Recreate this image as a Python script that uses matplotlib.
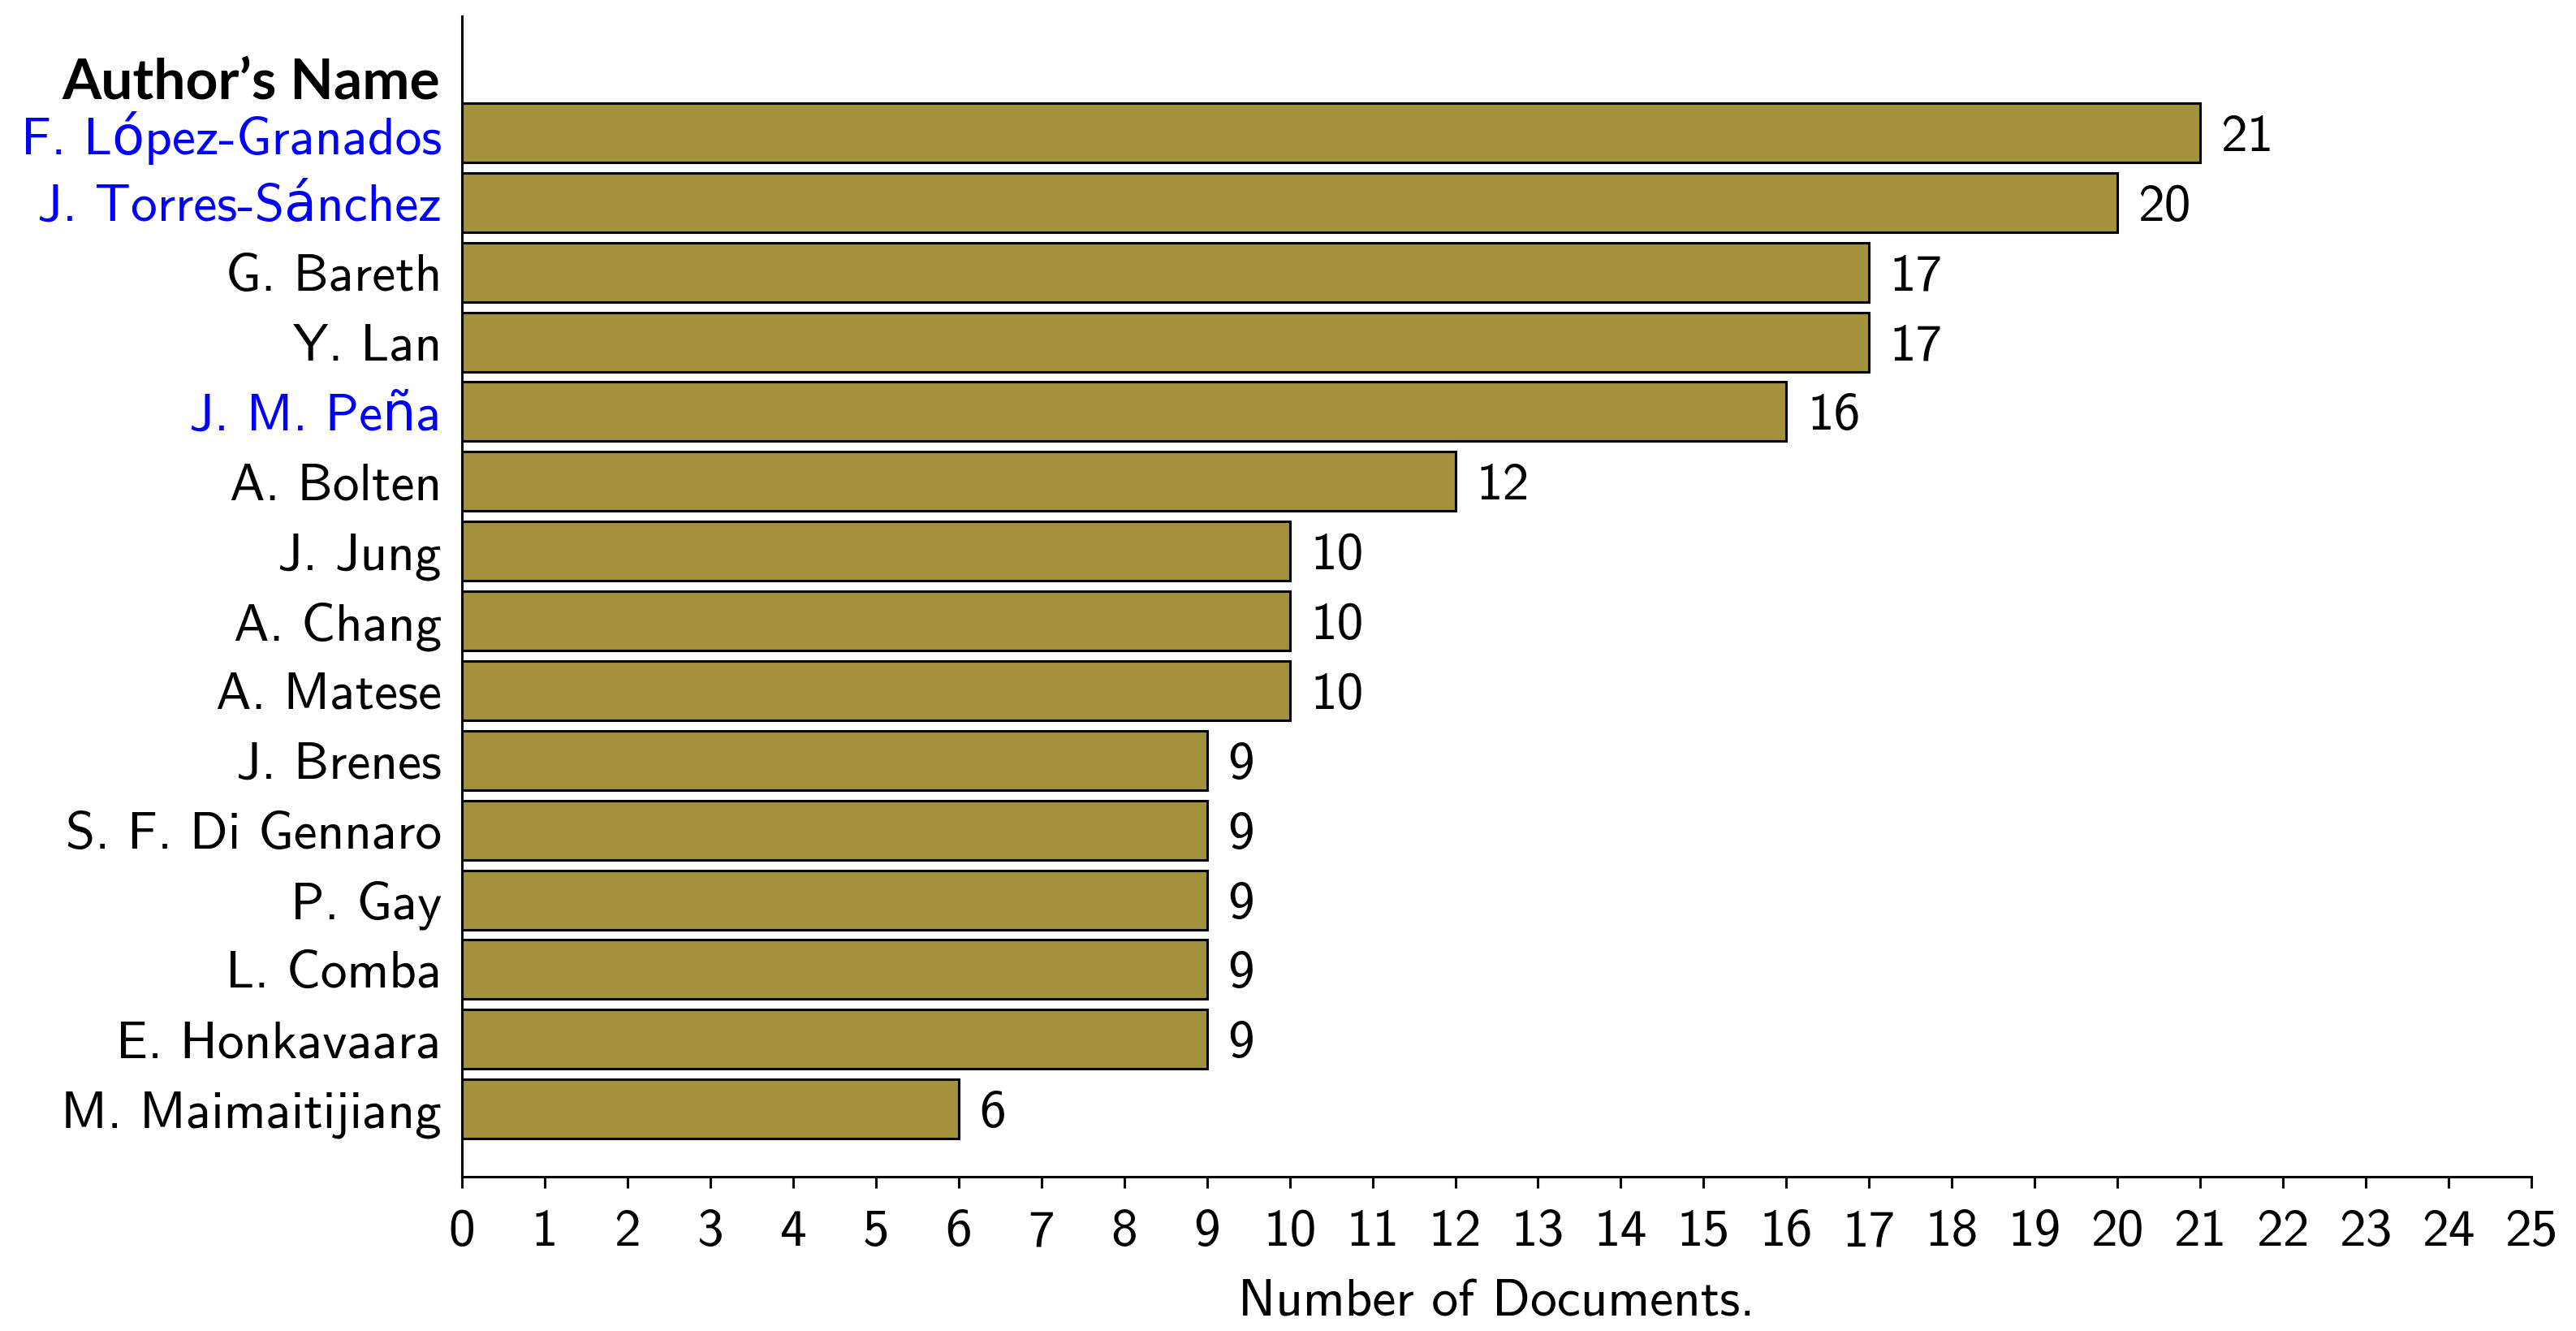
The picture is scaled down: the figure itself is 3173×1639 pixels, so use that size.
import matplotlib
matplotlib.use("Agg")
import matplotlib.pyplot as plt
import numpy as np

# datos
autores = ["F. López-Granados", "J. Torres-Sánchez", "G. Bareth", "Y. Lan",
           "J. M. Peña", "A. Bolten", "J. Jung", "A. Chang", "A. Matese",
           "J. Brenes", "S. F. Di Gennaro", "P. Gay", "L. Comba",
           "E. Honkavaara", "M. Maimaitijiang"]
documentos = [21, 20, 17, 17, 16, 12, 10, 10, 10, 9, 9, 9, 9, 9, 6]
resaltados = ["F. López-Granados", "J. Torres-Sánchez", "J. M. Peña"]

plt.rcParams['font.family'] = ['cmss10', 'DejaVu Sans']
plt.rcParams['axes.unicode_minus'] = False
plt.rcParams['mathtext.fontset'] = 'cm'

fs = 23.5

fig = plt.figure(figsize=(15.865, 8.195), dpi=200)
ax = fig.add_axes([0.1793, 0.1159, 0.8034, 0.8719])

y = np.arange(len(autores))[::-1]
ax.barh(y, documentos, height=0.85, color='#a3923a', edgecolor='black', linewidth=1.1)

for yi, v in zip(y, documentos):
    ax.text(v + 0.25, yi, str(v), va='center_baseline', ha='left', fontsize=fs)

ax.set_yticks(y)
ax.set_yticklabels(autores, fontsize=fs, va='center_baseline')
for lab in ax.get_yticklabels():
    if lab.get_text() in resaltados:
        lab.set_color('#0000ff')
ax.tick_params(axis='y', length=0, pad=9)

ax.set_xlim(0, 25)
ax.set_ylim(-0.97, 15.67)
ax.set_xticks(range(0, 26))
ax.tick_params(axis='x', labelsize=fs, length=5, width=1.1, direction='out', pad=9.5)
ax.set_xlabel('Number of Documents.', fontsize=fs, labelpad=10)

ax.spines['top'].set_visible(False)
ax.spines['right'].set_visible(False)
ax.spines['left'].set_linewidth(1.1)
ax.spines['bottom'].set_linewidth(1.1)

ax.text(-0.26, 14.78, "Author’s Name", ha='right', va='center_baseline', fontsize=25,
        fontweight='bold', family=['Lato', 'DejaVu Sans'])

fig.savefig('out.png', dpi=200)
